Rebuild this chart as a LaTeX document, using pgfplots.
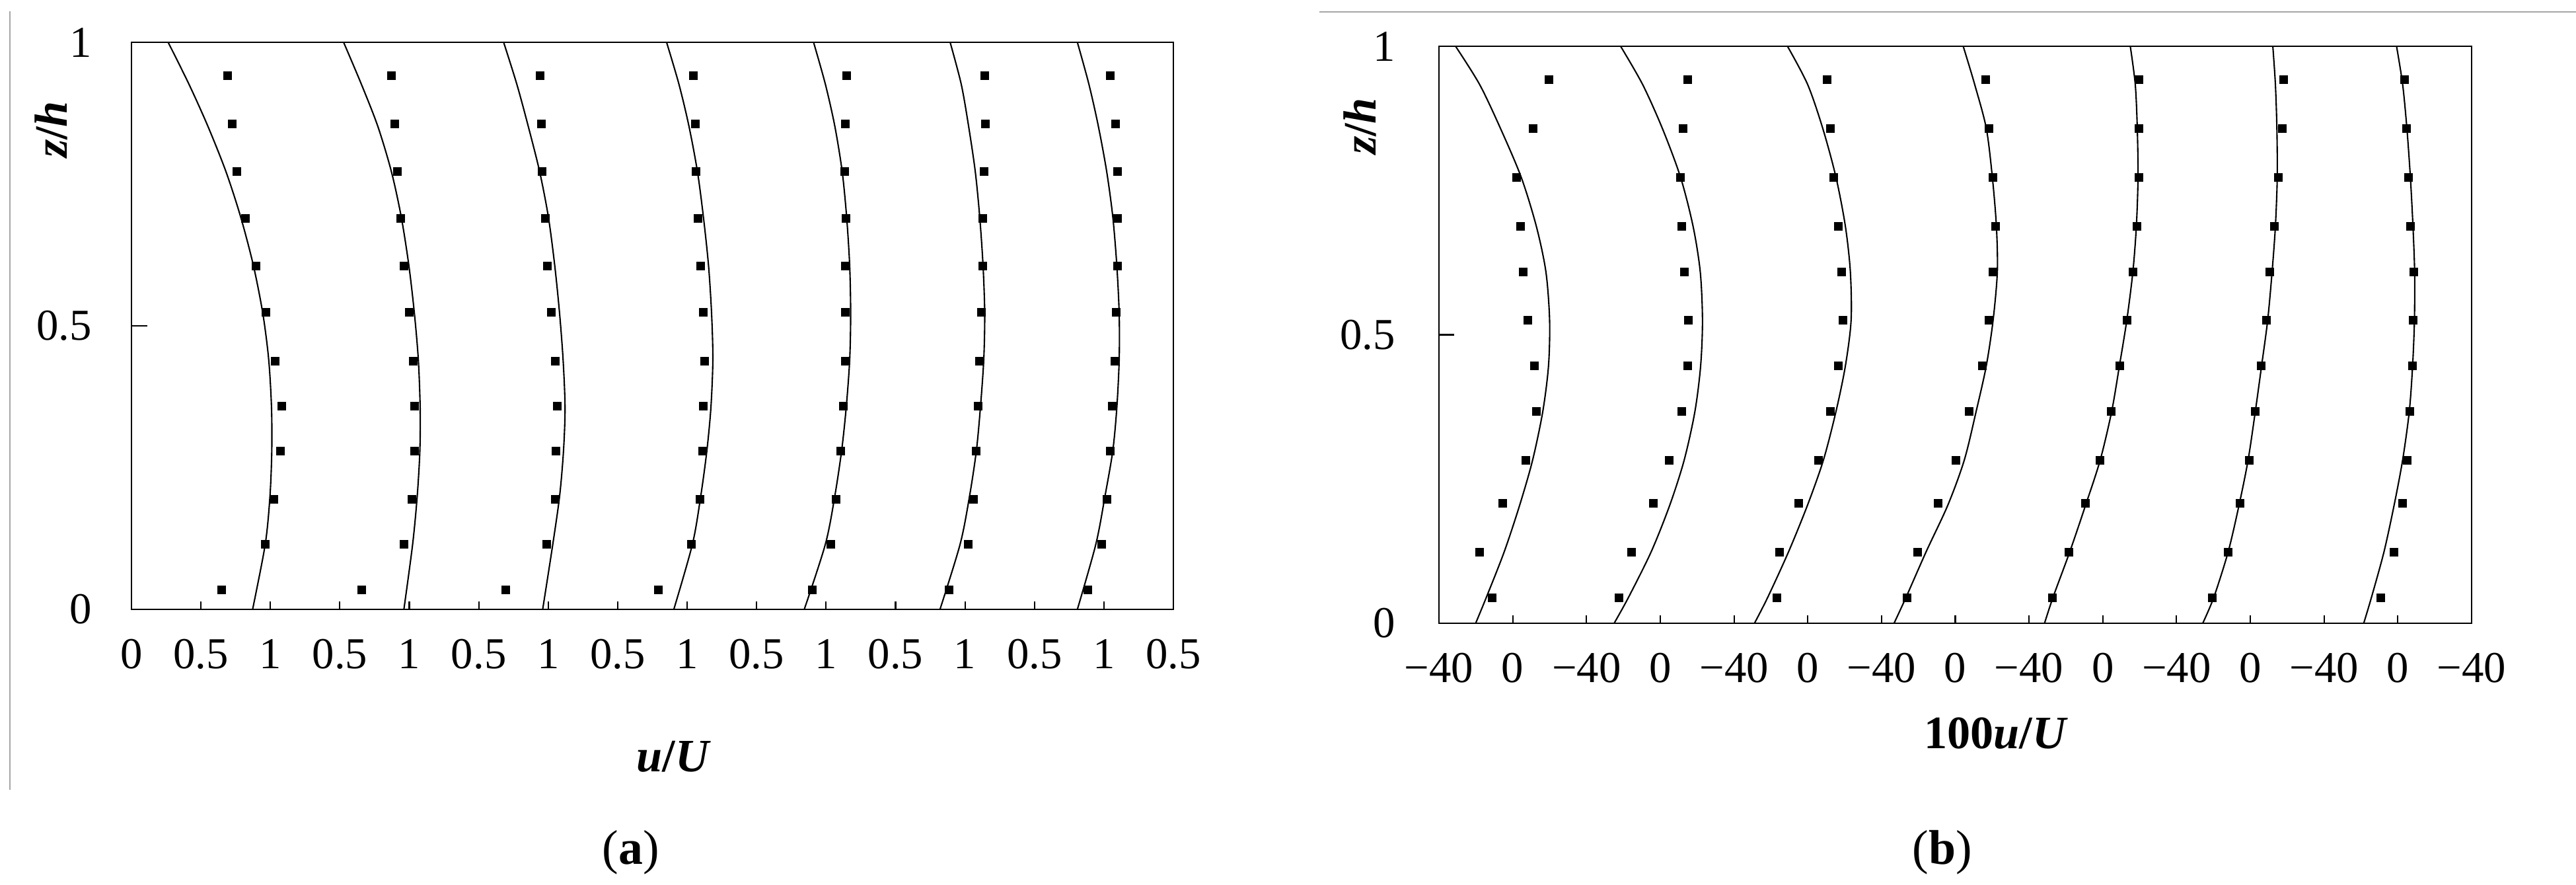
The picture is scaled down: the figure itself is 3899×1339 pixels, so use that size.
\documentclass[border=0pt]{standalone}
\usepackage{fontspec}
\setmainfont{Liberation Serif}
\usepackage{pgfplots}
\usepackage{pgfplotstable}
\pgfplotsset{compat=1.18}

% Panel (a): measured points, u/U at levels z/h
\pgfplotstableread{
z p1 p2 p3 p4 p5 p6 p7
0.942 0.690 0.868 0.941 1.043 1.145 1.140 1.044
0.857 0.722 0.892 0.949 1.057 1.138 1.147 1.081
0.772 0.755 0.911 0.954 1.062 1.134 1.135 1.095
0.690 0.818 0.938 0.979 1.078 1.143 1.128 1.095
0.606 0.894 0.961 0.992 1.097 1.136 1.125 1.095
0.524 0.968 0.996 1.022 1.116 1.138 1.116 1.086
0.438 1.033 1.026 1.049 1.125 1.136 1.101 1.076
0.359 1.082 1.038 1.063 1.116 1.123 1.094 1.059
0.280 1.069 1.038 1.052 1.111 1.102 1.077 1.044
0.195 1.025 1.019 1.049 1.092 1.070 1.058 1.020
0.115 0.960 0.958 0.987 1.029 1.034 1.021 0.984
0.035 0.649 0.658 0.692 0.789 0.898 0.885 0.882
}\ptsA
% Panel (a): computed profiles
\pgfplotstableread{
z c1 c2 c3 c4 c5 c6 c7
1.000 0.264 0.527 0.679 0.852 0.910 0.893 0.809
0.926 0.414 0.655 0.774 0.941 0.995 0.973 0.892
0.852 0.550 0.773 0.856 1.013 1.063 1.026 0.960
0.772 0.680 0.871 0.938 1.074 1.116 1.074 1.020
0.692 0.786 0.942 1.001 1.117 1.148 1.106 1.064
0.606 0.878 0.997 1.047 1.154 1.170 1.130 1.093
0.521 0.946 1.037 1.082 1.176 1.177 1.142 1.110
0.440 0.988 1.065 1.107 1.185 1.170 1.135 1.110
0.356 1.008 1.078 1.121 1.171 1.145 1.111 1.093
0.280 1.010 1.076 1.110 1.142 1.112 1.082 1.064
0.200 0.997 1.057 1.082 1.098 1.063 1.033 1.008
0.115 0.963 1.024 1.033 1.038 0.995 0.965 0.942
0.000 0.872 0.961 0.960 0.904 0.843 0.820 0.809
}\curA
% Panel (b): measured points, 100u/U
\pgfplotstableread{
z p1 p2 p3 p4 p5 p6 p7
0.942 19.4 14.7 10.2 16.5 19.6 18.0 3.5
0.858 11.0 12.4 12.2 18.0 19.6 17.1 4.7
0.773 2.1 11.0 13.9 20.4 19.6 15.1 5.5
0.688 4.0 11.4 16.5 21.7 18.5 12.9 6.9
0.609 5.4 13.0 18.4 20.2 16.1 10.5 8.4
0.525 8.1 15.1 19.0 18.0 13.2 8.5 8.2
0.446 11.8 14.7 16.5 14.5 9.2 5.8 7.7
0.367 12.8 11.4 12.2 7.5 4.6 2.5 6.4
0.283 7.1 4.8 5.6 0.1 -1.8 -0.8 5.1
0.208 -5.7 -4.0 -4.9 -9.4 -9.5 -5.7 2.4
0.124 -18.0 -15.5 -15.3 -20.5 -18.4 -12.3 -2.2
0.045 -11.4 -22.5 -16.8 -26.2 -27.5 -20.7 -9.3
}\ptsB
% Panel (b): computed profiles
\pgfplotstableread{
z c1 c2 c3 c4 c5 c6 c7
1.000 -31.0 -21.5 -11.0 4.3 14.9 12.2 -0.7
0.934 -18.0 -9.6 -0.1 10.5 17.6 13.6 2.6
0.858 -6.7 1.1 8.1 16.8 18.7 14.4 4.9
0.773 4.6 11.0 15.3 20.1 19.1 14.6 6.8
0.688 12.8 17.8 20.4 22.3 18.2 13.6 8.2
0.609 18.0 21.7 23.1 22.8 16.3 11.8 9.1
0.525 20.0 22.9 23.5 20.5 13.0 9.4 9.0
0.446 19.4 21.9 20.4 16.8 9.0 6.1 8.0
0.367 16.3 18.8 15.3 11.3 4.8 2.7 6.2
0.283 10.8 13.0 8.5 4.9 -1.4 -1.2 2.6
0.205 3.8 5.2 -0.1 -4.0 -9.3 -6.1 -2.0
0.124 -4.6 -4.9 -10.4 -15.8 -17.9 -12.0 -7.5
0.045 -14.3 -17.2 -21.7 -26.7 -27.0 -19.8 -14.3
0.000 -20.1 -25.0 -28.9 -33.2 -31.6 -25.8 -18.5
}\curB

\pgfplotsset{
  myax/.style={
    scale only axis,
    axis line style={line width=0.8pt, black},
    tick align=inside,
    xtick pos=bottom, ytick pos=left,
    major tick length=1.2mm,
    tick style={line width=0.6pt, black},
    ymin=0, ymax=1,
    ytick={0,0.5,1}, yticklabels={0,0.5,1},
    tick label style={font=\fontsize{19}{22}\selectfont},
    xticklabel style={yshift=-3.3mm},
  },
  prof/.style={black, line width=0.6pt, smooth, no markers},
  pts/.style={only marks, mark=square*, mark size=0.6mm,
    mark options={fill=black, draw=black, line width=0.1pt}},
}

\begin{document}
\begin{tikzpicture}[x=0.1mm, y=0.1mm]
\path[use as bounding box] (0,0) rectangle (3899,1339);
% page decorations of the source figure
\draw[gray!70, line width=0.25mm] (15,1322) -- (15,144);
\draw[gray!70, line width=0.25mm] (1997,1321) -- (3899,1321);

% ---------------- panel (a) ----------------
\begin{axis}[myax,
  at={(19.9mm,41.7mm)}, anchor=south west,
  width=157.7mm, height=85.8mm,
  xmin=0, xmax=7.5,
  xtick={0,0.5,...,7.5},
  xticklabels={0,0.5,1,0.5,1,0.5,1,0.5,1,0.5,1,0.5,1,0.5,1,0.5},
  yticklabel style={xshift=-4.8mm},
]
\addplot[prof] table[x expr=\thisrow{c1}+0, y=z]{\curA};
\addplot[prof] table[x expr=\thisrow{c2}+1, y=z]{\curA};
\addplot[prof] table[x expr=\thisrow{c3}+2, y=z]{\curA};
\addplot[prof] table[x expr=\thisrow{c4}+3, y=z]{\curA};
\addplot[prof] table[x expr=\thisrow{c5}+4, y=z]{\curA};
\addplot[prof] table[x expr=\thisrow{c6}+5, y=z]{\curA};
\addplot[prof] table[x expr=\thisrow{c7}+6, y=z]{\curA};
\addplot[pts] table[x expr=\thisrow{p1}+0, y=z]{\ptsA};
\addplot[pts] table[x expr=\thisrow{p2}+1, y=z]{\ptsA};
\addplot[pts] table[x expr=\thisrow{p3}+2, y=z]{\ptsA};
\addplot[pts] table[x expr=\thisrow{p4}+3, y=z]{\ptsA};
\addplot[pts] table[x expr=\thisrow{p5}+4, y=z]{\ptsA};
\addplot[pts] table[x expr=\thisrow{p6}+5, y=z]{\ptsA};
\addplot[pts] table[x expr=\thisrow{p7}+6, y=z]{\ptsA};
\draw[line width=0.6pt] (axis cs:0,0.5) -- (axis cs:0.114,0.5);
\end{axis}

% ---------------- panel (b) ----------------
\begin{axis}[myax,
  at={(217.8mm,39.6mm)}, anchor=south west,
  width=156.3mm, height=87.3mm,
  xmin=-40, xmax=520,
  xtick={-40,0,...,520},
  xticklabels={−40,0,−40,0,−40,0,−40,0,−40,0,−40,0,−40,0,−40},
  yticklabel style={xshift=-5.4mm},
]
\addplot[prof] table[x expr=\thisrow{c1}+0, y=z]{\curB};
\addplot[prof] table[x expr=\thisrow{c2}+80, y=z]{\curB};
\addplot[prof] table[x expr=\thisrow{c3}+160, y=z]{\curB};
\addplot[prof] table[x expr=\thisrow{c4}+240, y=z]{\curB};
\addplot[prof] table[x expr=\thisrow{c5}+320, y=z]{\curB};
\addplot[prof] table[x expr=\thisrow{c6}+400, y=z]{\curB};
\addplot[prof] table[x expr=\thisrow{c7}+480, y=z]{\curB};
\addplot[pts] table[x expr=\thisrow{p1}+0, y=z]{\ptsB};
\addplot[pts] table[x expr=\thisrow{p2}+80, y=z]{\ptsB};
\addplot[pts] table[x expr=\thisrow{p3}+160, y=z]{\ptsB};
\addplot[pts] table[x expr=\thisrow{p4}+240, y=z]{\ptsB};
\addplot[pts] table[x expr=\thisrow{p5}+320, y=z]{\ptsB};
\addplot[pts] table[x expr=\thisrow{p6}+400, y=z]{\ptsB};
\addplot[pts] table[x expr=\thisrow{p7}+480, y=z]{\ptsB};
\draw[line width=0.6pt] (axis cs:-40,0.5) -- (axis cs:-31.6,0.5);
\end{axis}

% labels
\node[rotate=90, font=\fontsize{20}{24}\selectfont] at (77,1143) {\textbf{\textit{z}/\textit{h}}};
\node[rotate=90, font=\fontsize{20}{24}\selectfont] at (2058,1148) {\textbf{\textit{z}/\textit{h}}};
\node[font=\fontsize{20}{24}\selectfont] at (1020,194) {\textbf{\textit{u}/\textit{U}}};
\node[font=\fontsize{20}{24}\selectfont] at (3021,229) {\textbf{100\textit{u}/\textit{U}}};
\node[font=\fontsize{21}{25}\selectfont] at (955,49) {(\textbf{a})};
\node[font=\fontsize{21}{25}\selectfont] at (2940,49) {(\textbf{b})};
\end{tikzpicture}
\end{document}
